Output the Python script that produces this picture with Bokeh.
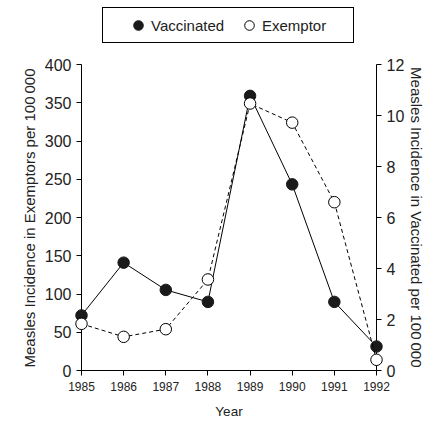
from bokeh.plotting import figure
from bokeh.models import Range1d, LinearAxis, FixedTicker, Legend, LegendItem, Title
from bokeh.embed import file_html
from bokeh.resources import INLINE

# ---- data ----
years = [1985, 1986, 1987, 1988, 1989, 1990, 1991, 1992]
vaccinated = [2.16, 4.23, 3.16, 2.69, 10.77, 7.30, 2.69, 0.94]      # right axis, per 100 000
exemptor = [61, 44, 54, 119, 349, 324, 220, 14]                    # left axis, per 100 000
left_ticks = [0, 50, 100, 150, 200, 250, 300, 350, 400]
right_ticks = [0, 2, 4, 6, 8, 10, 12]
series_names = ["Vaccinated", "Exemptor"]
left_label = "Measles Incidence in Exemptors per 100\u2009000"
right_label = "Measles Incidence in Vaccinated per 100\u2009000"
x_label = "Year"

FONT = "Liberation Sans"
TXT = "#222222"

# the axes span AXIS_H px; the frame is taller so the legend box fits inside it
AXIS_H = 306
FRAME_H = 366
scale = FRAME_H / AXIS_H

p = figure(frame_width=295, frame_height=FRAME_H,
           min_border_left=81, min_border_right=50, min_border_top=4, min_border_bottom=50,
           x_range=Range1d(years[0], years[-1]),
           y_range=Range1d(left_ticks[0], left_ticks[-1] * scale),
           output_backend="svg", toolbar_location=None)
p.extra_y_ranges = {"vacc": Range1d(right_ticks[0], right_ticks[-1] * scale)}

p.outline_line_color = None
p.grid.visible = False
p.background_fill_color = "white"
p.border_fill_color = "white"

# x axis
xa = p.xaxis[0]
xa.ticker = FixedTicker(ticks=years)
xa.axis_label = x_label
xa.major_label_text_font_size = "12px"
xa.axis_label_text_font_size = "13.5px"
xa.major_label_standoff = 6
xa.axis_label_standoff = 10

# left axis
ya = p.yaxis[0]
ya.ticker = FixedTicker(ticks=left_ticks)
ya.bounds = (left_ticks[0], left_ticks[-1])
ya.major_label_text_font_size = "16px"
ya.major_label_standoff = 5

# right axis
ra = LinearAxis(y_range_name="vacc", ticker=FixedTicker(ticks=right_ticks),
                bounds=(right_ticks[0], right_ticks[-1]))
ra.major_label_text_font_size = "16px"
ra.major_label_standoff = 5
p.add_layout(ra, "right")

for ax in [xa, ya, ra]:
    ax.axis_line_color = "black"
    ax.axis_line_width = 1
    ax.major_tick_line_color = "black"
    ax.major_tick_out = 5
    ax.major_tick_in = 0
    ax.minor_tick_line_color = None
    ax.major_label_text_font = FONT
    ax.axis_label_text_font = FONT
    ax.major_label_text_color = TXT
    ax.axis_label_text_color = TXT
    ax.axis_label_text_font_style = "normal"

# axis titles for the two value axes, anchored at the bottom of the axes' span
lt = Title(text=left_label, align="left", offset=3, standoff=8,
           text_font=FONT, text_font_size="15px", text_font_style="normal", text_color=TXT)
p.add_layout(lt, "left")
rt = Title(text=right_label, align="right", offset=3, standoff=0,
           text_font=FONT, text_font_size="15px", text_font_style="normal", text_color=TXT)
p.add_layout(rt, "right")

# series
vac_line = p.line(years, vaccinated, y_range_name="vacc", line_color="black", line_width=1, level="overlay")
vac_pts = p.scatter(years, vaccinated, y_range_name="vacc", size=11.5, fill_color="#1a1a1a",
                    line_color="#1a1a1a", line_width=1, level="overlay")
ex_line = p.line(years, exemptor, line_color="black", line_width=1, line_dash="4 3", level="overlay")
ex_pts = p.scatter(years, exemptor, size=11.5, fill_color="white", line_color="black", line_width=1, level="overlay")

legend = Legend(items=[LegendItem(label=series_names[0], renderers=[vac_pts]),
                       LegendItem(label=series_names[1], renderers=[ex_pts])],
                orientation="horizontal", location=(21, 327), padding=5, spacing=0,
                glyph_width=24, glyph_height=24, label_standoff=1, label_width=86,
                label_text_font=FONT, label_text_font_size="15px", label_text_color=TXT,
                border_line_color="black", border_line_width=1, border_line_alpha=1,
                background_fill_color="white", background_fill_alpha=1,
                title=" ", title_location="left", title_standoff=16, title_text_font_size="2px",
                margin=0)
p.add_layout(legend)

open("out.html", "w").write(file_html(p, INLINE))
